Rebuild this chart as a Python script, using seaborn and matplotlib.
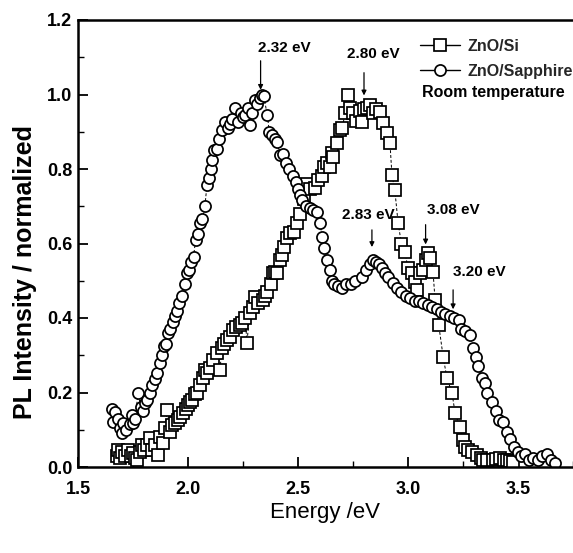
import numpy as np
import pandas as pd
import matplotlib
matplotlib.use("Agg")
import matplotlib.pyplot as plt
import seaborn as sns
from matplotlib.ticker import MultipleLocator

# ---------------- data ----------------
si_energy = [1.675, 1.68, 1.69, 1.70, 1.715, 1.727, 1.74, 1.75, 1.76, 1.768, 1.78, 1.79, 1.80, 1.815,
             1.827, 1.835, 1.85, 1.864, 1.873, 1.885, 1.895, 1.905, 1.918, 1.927, 1.94, 1.955, 1.965,
             1.977, 1.99, 2.0, 2.01, 2.018, 2.03, 2.04, 2.055, 2.068, 2.077, 2.086, 2.10, 2.114, 2.13,
             2.145, 2.155, 2.165, 2.177, 2.19, 2.205, 2.22, 2.235, 2.245, 2.26, 2.268, 2.28, 2.295,
             2.305, 2.32, 2.34, 2.35, 2.36, 2.375, 2.386, 2.395, 2.405, 2.418, 2.427, 2.435, 2.45,
             2.465, 2.48, 2.495, 2.51, 2.525, 2.54, 2.555, 2.577, 2.59, 2.61, 2.62, 2.63, 2.645, 2.655,
             2.66, 2.677, 2.69, 2.70, 2.715, 2.727, 2.736, 2.75, 2.765, 2.78, 2.79, 2.80, 2.815, 2.827,
             2.84, 2.855, 2.873, 2.886, 2.905, 2.918, 2.927, 2.94, 2.955, 2.97, 2.986, 3.0, 3.018, 3.03,
             3.04, 3.055, 3.068, 3.08, 3.09, 3.10, 3.114, 3.123, 3.14, 3.16, 3.177, 3.2, 3.214, 3.236,
             3.25, 3.26, 3.273, 3.29, 3.314, 3.33, 3.34, 3.36, 3.386, 3.40, 3.418, 3.435, 3.45, 3.465,
             3.477]
si_intensity = [0.03, 0.046, 0.024, 0.04, 0.03, 0.046, 0.03, 0.038, 0.025, 0.019, 0.04, 0.059, 0.045, 0.06,
                0.078, 0.046, 0.059, 0.032, 0.08, 0.064, 0.105, 0.153, 0.094, 0.113, 0.118, 0.126, 0.135,
                0.145, 0.155, 0.166, 0.175, 0.18, 0.195, 0.20, 0.22, 0.239, 0.26, 0.252, 0.265, 0.287, 0.306,
                0.26, 0.32, 0.33, 0.34, 0.35, 0.367, 0.375, 0.38, 0.386, 0.40, 0.333, 0.413, 0.43,
                0.456, 0.44, 0.448, 0.46, 0.47, 0.49, 0.52, 0.523, 0.52, 0.556, 0.57, 0.59, 0.615,
                0.628, 0.63, 0.655, 0.68, 0.72, 0.76, 0.745, 0.75, 0.77, 0.78, 0.805, 0.816, 0.805, 0.843,
                0.832, 0.87, 0.905, 0.91, 0.95, 1.0, 0.964, 0.95, 0.93, 0.955, 0.926, 0.96, 0.965, 0.972,
                0.95, 0.96, 0.953, 0.923, 0.897, 0.87, 0.784, 0.744, 0.655, 0.60, 0.577, 0.534, 0.52, 0.497,
                0.475, 0.52, 0.53, 0.556, 0.574, 0.56, 0.523, 0.448, 0.38, 0.295, 0.239, 0.199, 0.145, 0.107,
                0.072, 0.055, 0.046, 0.04, 0.032, 0.025, 0.019, 0.02, 0.019, 0.022, 0.024, 0.02, 0.019, 0.015,
                0.013]

sa_energy = [1.655, 1.66, 1.668, 1.68, 1.69, 1.70, 1.705, 1.72, 1.735, 1.745, 1.75, 1.76, 1.773, 1.785,
             1.795, 1.805, 1.815, 1.827, 1.836, 1.848, 1.86, 1.873, 1.88, 1.89, 1.90, 1.91, 1.918, 1.93,
             1.94, 1.95, 1.96, 1.973, 1.985, 1.995, 2.005, 2.015, 2.025, 2.035, 2.045, 2.055, 2.065,
             2.077, 2.086, 2.095, 2.105, 2.11, 2.12, 2.13, 2.14, 2.155, 2.168, 2.18, 2.19, 2.20, 2.214,
             2.227, 2.24, 2.25, 2.26, 2.273, 2.28, 2.29, 2.305, 2.315, 2.325, 2.336, 2.345, 2.36, 2.37,
             2.38, 2.395, 2.405, 2.418, 2.43, 2.445, 2.46, 2.475, 2.49, 2.50, 2.51, 2.52, 2.535, 2.555,
             2.57, 2.586, 2.60, 2.61, 2.62, 2.63, 2.645, 2.655, 2.665, 2.68, 2.70, 2.72, 2.74, 2.76, 2.79,
             2.81, 2.825, 2.84, 2.855, 2.87, 2.88, 2.895, 2.91, 2.93, 2.95, 2.97, 2.99, 3.01, 3.03, 3.05,
             3.07, 3.09, 3.11, 3.13, 3.15, 3.17, 3.19, 3.21, 3.23, 3.24, 3.26, 3.28, 3.295, 3.31, 3.32,
             3.335, 3.35, 3.36, 3.38, 3.40, 3.415, 3.43, 3.45, 3.465, 3.48, 3.50, 3.515, 3.53, 3.55, 3.57,
             3.59, 3.61, 3.63, 3.65, 3.67]
sa_intensity = [0.155, 0.12, 0.148, 0.13, 0.105, 0.091, 0.118, 0.10, 0.115, 0.14, 0.118, 0.13, 0.20, 0.16,
                0.15, 0.172, 0.18, 0.20, 0.22, 0.235, 0.252, 0.28, 0.30, 0.325, 0.33, 0.36, 0.37, 0.39,
                0.405, 0.42, 0.44, 0.46, 0.49, 0.52, 0.53, 0.55, 0.565, 0.61, 0.625, 0.655, 0.665,
                0.70, 0.757, 0.775, 0.80, 0.825, 0.85, 0.855, 0.88, 0.905, 0.926, 0.91, 0.92, 0.935, 0.964,
                0.926, 0.95, 0.94, 0.945, 0.964, 0.918, 0.95, 0.985, 0.975, 0.99, 1.0, 0.995, 0.945, 0.90,
                0.89, 0.88, 0.872, 0.838, 0.84, 0.815, 0.80, 0.78, 0.765, 0.745, 0.73, 0.717, 0.70, 0.695,
                0.69, 0.685, 0.655, 0.617, 0.588, 0.556, 0.53, 0.50, 0.49, 0.485, 0.48, 0.49, 0.49, 0.50, 0.51,
                0.53, 0.545, 0.555, 0.55, 0.545, 0.535, 0.52, 0.51, 0.495, 0.48, 0.47, 0.46, 0.455, 0.445, 0.445,
                0.44, 0.435, 0.43, 0.425, 0.415, 0.41, 0.405, 0.40, 0.395, 0.37, 0.365, 0.355, 0.32, 0.295, 0.27,
                0.24, 0.225, 0.20, 0.175, 0.15, 0.125, 0.12, 0.095, 0.075, 0.055, 0.04, 0.03, 0.035, 0.02, 0.025,
                0.02, 0.03, 0.035, 0.02, 0.01]

series_names = ["ZnO/Si", "ZnO/Sapphire"]
peak_labels = ["2.32 eV", "2.80 eV", "2.83 eV", "3.08 eV", "3.20 eV"]
peak_energy = [2.33, 2.80, 2.836, 3.08, 3.205]
peak_text_x = [2.318, 2.723, 2.70, 3.086, 3.205]
peak_text_y = [1.125, 1.11, 0.677, 0.69, 0.523]
peak_arrow_top = [1.098, 1.066, 0.644, 0.658, 0.483]
peak_arrow_tip = [1.005, 0.99, 0.583, 0.59, 0.416]

x_ticks = [1.5, 2.0, 2.5, 3.0, 3.5]
y_ticks = [0.0, 0.2, 0.4, 0.6, 0.8, 1.0, 1.2]

# ---------------- style ----------------
sns.set_theme(style="white")
plt.rcParams["font.family"] = ["Liberation Sans", "DejaVu Sans"]

fig = plt.figure(figsize=(5.73, 5.53), dpi=100)
ax = fig.add_axes([78 / 573, 86 / 553, 495 / 573, 447 / 553])

df_si = pd.DataFrame({"Energy": si_energy, "PL": si_intensity})
df_sa = pd.DataFrame({"Energy": sa_energy, "PL": sa_intensity})

common = dict(color="black", linewidth=0.7, linestyle=(0, (3, 2)), markersize=8,
              markerfacecolor="white", markeredgecolor="black", markeredgewidth=1.25,
              sort=False, estimator=None, ax=ax)
sns.lineplot(data=df_si, x="Energy", y="PL", marker="s", label=series_names[0], **common)
sns.lineplot(data=df_sa, x="Energy", y="PL", marker="o", label=series_names[1], **common)

ax.set_xlim(1.5, 3.75)
ax.set_ylim(0.0, 1.2)
ax.set_xticks(x_ticks)
ax.set_yticks(y_ticks)
ax.set_xticklabels([f"{v:.1f}" for v in x_ticks])
ax.set_yticklabels([f"{v:.1f}" for v in y_ticks])
ax.xaxis.set_minor_locator(MultipleLocator(0.25))
ax.yaxis.set_minor_locator(MultipleLocator(0.1))
ax.tick_params(which="major", direction="in", length=7, width=1.3, labelsize=13, colors="black")
ax.tick_params(which="minor", direction="in", length=4, width=1.0, colors="black")
ax.tick_params(axis="x", which="both", bottom=True, top=False, pad=10)
ax.tick_params(axis="y", which="both", left=True, right=False, pad=4)
for lab in ax.get_xticklabels() + ax.get_yticklabels():
    lab.set_fontweight("bold")

for side in ["left", "bottom", "top"]:
    ax.spines[side].set_visible(True)
    ax.spines[side].set_color("black")
    ax.spines[side].set_linewidth(1.8)
ax.spines["right"].set_visible(False)

ax.set_xlabel("Energy /eV", fontsize=16, color="black")
ax.xaxis.set_label_coords((325 - 78) / 495, (467 - 502) / 447)
ax.set_ylabel("PL Intensity / normalized", fontsize=18, fontweight="bold", color="black")
ax.yaxis.set_label_coords((37 - 78) / 495, (467 - 272) / 447)

for lab, xe, tx, ty, at, tip in zip(peak_labels, peak_energy, peak_text_x, peak_text_y,
                                    peak_arrow_top, peak_arrow_tip):
    ax.text(tx, ty, lab, fontsize=11, fontweight="bold", ha="left", va="center", color="black")
    ax.annotate("", xy=(xe, tip), xytext=(xe, at),
                arrowprops=dict(arrowstyle="-|>", color="black", lw=0.9, mutation_scale=7))

leg = ax.legend(loc="upper left", bbox_to_anchor=((420 - 78) / 495, (467 - 39) / 447), frameon=False,
                prop={"size": 11.5, "weight": "bold"}, handlelength=2.5, handletextpad=0.45,
                labelspacing=0.6, borderaxespad=0, borderpad=0)
for line in leg.get_lines():
    line.set_linestyle("-")
    line.set_linewidth(1.0)
ax.text((422 - 78) / 495, (467 - 92) / 447, "Room temperature", transform=ax.transAxes, fontsize=11.5,
        fontweight="bold", ha="left", va="center", color="black")

fig.savefig("out.png", dpi=100)
